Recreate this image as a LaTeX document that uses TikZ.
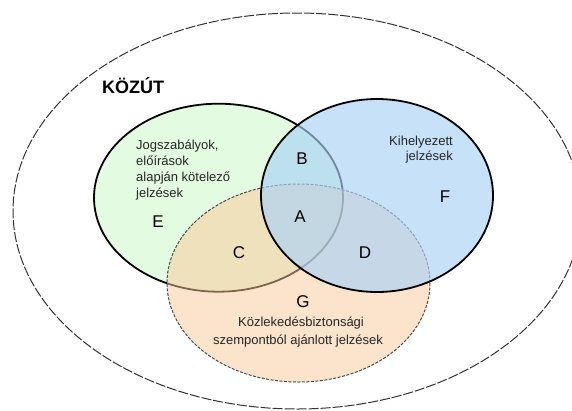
\documentclass[tikz,border=0pt]{standalone}
\usepackage{fontspec}
\setmainfont{Liberation Sans}
\definecolor{greenfill}{RGB}{227,251,224}
\definecolor{orangebase}{RGB}{251,201,153}
\definecolor{bluebase}{RGB}{170,210,247}
\begin{document}
\begin{tikzpicture}[x=1pt,y=-1pt,
  setline/.style={draw=black, line width=1.8pt},
  outerline/.style={draw=black!80, line width=1pt, dash pattern=on 10pt off 2pt},
  orangeline/.style={draw=black!70, line width=1pt, dash pattern=on 3pt off 1.5pt},
  letter/.style={font=\fontsize{17}{20}\selectfont, inner sep=0pt},
  note/.style={font=\fontsize{13}{16}\selectfont, inner sep=0pt, text=black!85},
  titlestyle/.style={font=\bfseries\fontsize{18}{20}\selectfont, inner sep=0pt}]
\useasboundingbox (0,0) rectangle (572,410);
\fill[white] (0,0) rectangle (572,410);
% outer road ellipse
\draw[outerline] (297,211) ellipse [x radius=284, y radius=198];
% green set
\path[setline, fill=greenfill] (218.5,197.7) ellipse [x radius=124.5, y radius=94];
% orange set
\fill[orangebase, fill opacity=0.5] (298.5,283) ellipse [x radius=131.5, y radius=99];
\draw[orangeline] (298.5,283) ellipse [x radius=131.5, y radius=99];
% blue set
\fill[bluebase, fill opacity=0.65] (377,195.5) ellipse [x radius=116, y radius=96.5];
\draw[setline] (377,195.5) ellipse [x radius=116, y radius=96.5];
% title
\node[titlestyle, anchor=base west] (title) at (102,93) {KÖZÚT};
% region letters
\node[letter] (A) at (300,217) {A};
\node[letter] (B) at (302,159) {B};
\node[letter] (C) at (239,253) {C};
\node[letter] (D) at (365,253) {D};
\node[letter] (E) at (158,222) {E};
\node[letter] (F) at (445,197) {F};
\node[letter] (G) at (303,302) {G};
% left text
\node[note, anchor=base west] (l1) at (136,149) {Jogszabályok,};
\node[note, anchor=base west] (l2) at (136,165) {előírások};
\node[note, anchor=base west] (l3) at (136,181) {alapján kötelező};
\node[note, anchor=base west] (l4) at (136,197) {jelzések};
% right text
\node[note, anchor=base east] (r1) at (453,145.5) {Kihelyezett};
\node[note, anchor=base east] (r2) at (453,160) {jelzések};
% bottom text
\node[note, anchor=base] (b1) at (301,326.5) {Közlekedésbiztonsági};
\node[note, anchor=base] (b2) at (298,344) {szempontból ajánlott jelzések};
\end{tikzpicture}
\end{document}
